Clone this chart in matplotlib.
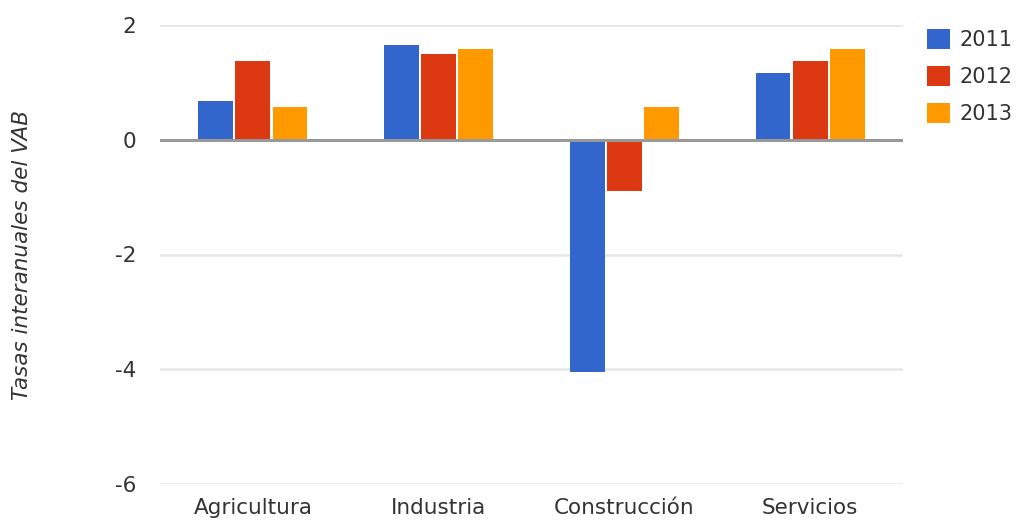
import numpy as np
import matplotlib
matplotlib.use("Agg")
import matplotlib.pyplot as plt
from matplotlib.patches import Patch

plt.rcParams['font.family'] = ['DejaVu Sans']

sectors = ['Agricultura', 'Industria', 'Construcción', 'Servicios']
years = ['2011', '2012', '2013']
vab_2011 = [0.68, 1.66, -4.05, 1.17]
vab_2012 = [1.37, 1.49, -0.89, 1.37]
vab_2013 = [0.57, 1.58, 0.57, 1.58]
yticks = [2, 0, -2, -4, -6]

colors = ['#3366cc', '#dc3912', '#ff9900']
series = [vab_2011, vab_2012, vab_2013]
txt_color = '#333333'
fs = 15.5

fig = plt.figure(figsize=(10.2, 5.21), dpi=100)
ax = fig.add_axes([160 / 1020, 1 - 484 / 521, 743 / 1020, 459 / 521])

x = np.arange(len(sectors))
bar_w = 0.2
for k, (vals, col) in enumerate(zip(series, colors)):
    ax.bar(x + (k - 1) * bar_w, vals, width=bar_w - 0.012, color=col,
           zorder=3, label=years[k])

ax.set_xlim(-0.5, len(sectors) - 0.5)
ax.set_ylim(-6, 2)
ax.set_yticks(yticks)
ax.set_yticklabels([str(t) for t in yticks])
ax.set_xticks(x)
ax.set_xticklabels(sectors)

# light gridlines, darker baseline at zero
for t in yticks:
    if t != 0:
        ax.axhline(t, color='#e6e6e6', lw=1.8, zorder=1)
ax.axhline(0, color='#999999', lw=2.2, zorder=4)

for s in ax.spines.values():
    s.set_visible(False)
ax.tick_params(axis='both', length=0, labelsize=fs, colors=txt_color)
ax.tick_params(axis='y', pad=17)
ax.tick_params(axis='x', pad=10)

ax.set_ylabel('Tasas interanuales del VAB', fontsize=fs, style='italic',
              color=txt_color)
ax.yaxis.set_label_coords(-128 / 743, 0.5)

handles = [Patch(facecolor=c, edgecolor='none') for c in colors]
fig.legend(handles, years, loc='upper left',
           bbox_to_anchor=(915 / 1020, 1 - 16 / 521),
           frameon=False, fontsize=15, handlelength=1.1, handleheight=1.1,
           labelspacing=0.78, handletextpad=0.45, labelcolor=txt_color,
           borderaxespad=0, borderpad=0.6)

fig.savefig('out.png', dpi=100)
